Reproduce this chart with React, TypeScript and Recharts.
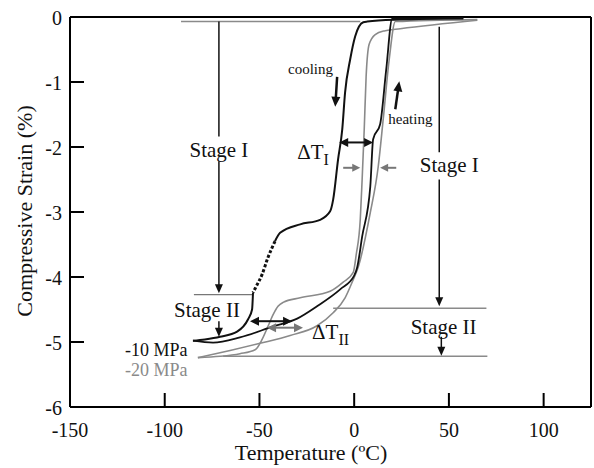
import React from 'react';
import { LineChart, Line, XAxis, YAxis, ReferenceLine, ReferenceDot } from 'recharts';

const FONT = '"Liberation Serif", "Times New Roman", serif';
const INK = '#111';
const GREY = '#8a8a8a';

const xTicks = [-150, -100, -50, 0, 50, 100];
const yTicks = [0, -1, -2, -3, -4, -5, -6];

// -10 MPa cooling (black), split where the original trace is dotted
const cool10aTemp = [57.6, 24.3, 6.9, 4.8, 0.5, -2.1, -4.8, -6.3, -8.5, -11.1, -12.7, -18.0, -28.5, -39.1, -41.8];
const cool10aStrain = [-0.02, -0.04, -0.07, -0.08, -0.3, -0.65, -1.16, -1.73, -2.19, -2.81, -2.99, -3.12, -3.19, -3.32, -3.45];
const cool10dotTemp = [-41.8, -45.5, -48.6, -51.8, -53.4];
const cool10dotStrain = [-3.45, -3.7, -3.96, -4.15, -4.24];
const cool10bTemp = [-53.4, -53.9, -56.0, -61.8, -70.8, -78.8, -85.1];
const cool10bStrain = [-4.24, -4.5, -4.65, -4.84, -4.92, -4.96, -4.98];

// -10 MPa heating (black)
const heat10Temp = [-85.1, -74.5, -60.3, -42.8, -30.1, -19.6, -7.4, 0, 1.6, 4.2, 8.5, 10.0, 13.7, 16.9, 20.1, 57.6];
const heat10Strain = [-4.98, -5.01, -4.93, -4.76, -4.64, -4.45, -4.19, -3.98, -3.85, -3.38, -2.61, -1.88, -1.65, -0.81, -0.02, -0.02];

// -20 MPa cooling (grey)
const cool20Temp = [65.0, 24.3, 16.4, 11.1, 7.9, 6.3, 5.3, 4.2, 3.2, 1.1, -0.5, -5.8, -12.7, -28.5, -37.5, -40.2, -42.8, -45.5, -48.6, -52.3, -60.3, -70.8, -82.5];
const cool20Strain = [-0.05, -0.18, -0.21, -0.27, -0.42, -0.92, -1.73, -2.5, -3.12, -3.65, -3.93, -4.08, -4.22, -4.32, -4.39, -4.45, -4.58, -4.76, -4.96, -5.12, -5.18, -5.22, -5.24];

// -20 MPa heating (grey)
const heat20Temp = [-82.5, -65.5, -49.7, -33.8, -19.6, -11.1, -4.8, -0.5, 2.1, 8.5, 12.7, 15.3, 18.5, 21.7, 65.0];
const heat20Strain = [-5.24, -5.13, -5.02, -4.9, -4.75, -4.55, -4.32, -4.04, -3.85, -3.01, -2.3, -1.58, -0.65, -0.07, -0.04];

const zip = (t: number[], s: number[]) => t.map((v, i) => ({ t: v, s: s[i] }));

const YTick = ({ x, y, payload }: any) => (
  <g>
    <line x1={x + 8} y1={y} x2={x + 22} y2={y} stroke="#000" strokeWidth={2} />
    <text x={x} y={y + 8} textAnchor="end" fontSize={20} fontFamily={FONT} fill={INK}>{payload.value}</text>
  </g>
);

const XTick = ({ x, y, payload }: any) => (
  <g>
    <line x1={x} y1={y} x2={x} y2={y - 14} stroke="#000" strokeWidth={2} />
    <text x={x} y={y + 30} textAnchor="middle" fontSize={20} fontFamily={FONT} fill={INK}>{payload.value}</text>
  </g>
);

// line with arrow head(s), used as ReferenceLine shape
const arrow = (color: string, width: number, both = false, head = 9, half = 4.5) => (p: any) => {
  const { x1, y1, x2, y2 } = p;
  const len = Math.hypot(x2 - x1, y2 - y1) || 1;
  const ux = (x2 - x1) / len;
  const uy = (y2 - y1) / len;
  const tri = (tx: number, ty: number, dx: number, dy: number) =>
    `${tx},${ty} ${tx - dx * head - dy * half},${ty - dy * head + dx * half} ${tx - dx * head + dy * half},${ty - dy * head - dx * half}`;
  const sx = both ? x1 + ux * head * 0.8 : x1;
  const sy = both ? y1 + uy * head * 0.8 : y1;
  return (
    <g>
      <line x1={sx} y1={sy} x2={x2 - ux * head * 0.8} y2={y2 - uy * head * 0.8} stroke={color} strokeWidth={width} />
      <polygon points={tri(x2, y2, ux, uy)} fill={color} />
      {both && <polygon points={tri(x1, y1, -ux, -uy)} fill={color} />}
    </g>
  );
};

const note = (text: string, size: number, anchor: 'start' | 'middle' | 'end' = 'middle', color = INK) => (p: any) => (
  <text x={p.cx} y={p.cy} fontSize={size} fontFamily={FONT} textAnchor={anchor} fill={color}>{text}</text>
);

const delta = (sub: string) => (p: any) => (
  <text x={p.cx} y={p.cy} fontSize={21} fontFamily={FONT} fill={INK}>
    ΔT<tspan fontSize={16} dy={6}>{sub}</tspan>
  </text>
);

const App: React.FC = () => {
  return (
    <div style={{ position: 'absolute', left: 0, top: 0, background: '#fff' }}>
      <LineChart width={594} height={468} margin={{ top: 17, right: 3, bottom: 11, left: 10 }}>
        <XAxis
          type="number"
          dataKey="t"
          domain={[-150, 125]}
          ticks={xTicks}
          allowDataOverflow
          height={50}
          tickSize={0}
          tickMargin={0}
          tickLine={false}
          tick={<XTick />}
          axisLine={{ stroke: '#000', strokeWidth: 2 }}
          label={{
            content: () => (
              <text x={311} y={460} textAnchor="middle" fontSize={22} fontFamily={FONT} fill={INK}>Temperature (ºC)</text>
            ),
          }}
        />
        <YAxis
          type="number"
          domain={[-6, 0]}
          ticks={yTicks}
          allowDataOverflow
          width={60}
          tickSize={0}
          tickMargin={8}
          tickLine={false}
          tick={<YTick />}
          axisLine={{ stroke: '#000', strokeWidth: 2 }}
          label={{
            content: () => (
              <text x={32} y={211} transform="rotate(-90, 32, 211)" textAnchor="middle" fontSize={22} fontFamily={FONT} fill={INK}>
                Compressive Strain (%)
              </text>
            ),
          }}
        />
        <ReferenceLine y={0} stroke="#000" strokeWidth={2} />
        <ReferenceLine x={125} stroke="#000" strokeWidth={2} />

        {/* guide lines */}
        <ReferenceLine segment={[{ x: -91.4, y: -0.07 }, { x: 3.2, y: -0.07 }]} stroke={GREY} strokeWidth={1.5} />
        <ReferenceLine segment={[{ x: -84.6, y: -4.27 }, { x: -53.4, y: -4.27 }]} stroke="#777" strokeWidth={1.3} />
        <ReferenceLine segment={[{ x: -11.1, y: -4.48 }, { x: 69.8, y: -4.48 }]} stroke={GREY} strokeWidth={1.5} />
        <ReferenceLine segment={[{ x: -69.2, y: -5.22 }, { x: 70.3, y: -5.22 }]} stroke={GREY} strokeWidth={1.5} />
        <ReferenceLine segment={[{ x: -71.4, y: -0.07 }, { x: -71.4, y: -1.84 }]} stroke={INK} strokeWidth={1.5} />
        <ReferenceLine segment={[{ x: -71.4, y: -2.22 }, { x: -71.4, y: -4.25 }]} shape={arrow(INK, 1.5, false, 9, 4)} />
        <ReferenceLine segment={[{ x: -71.4, y: -4.68 }, { x: -71.4, y: -4.92 }]} shape={arrow(INK, 1.5, false, 9, 4)} />
        <ReferenceLine segment={[{ x: 44.9, y: -0.15 }, { x: 44.9, y: -2.08 }]} stroke={INK} strokeWidth={1.5} />
        <ReferenceLine segment={[{ x: 44.9, y: -2.5 }, { x: 44.9, y: -4.45 }]} shape={arrow(INK, 1.5, false, 9, 4)} />
        <ReferenceLine segment={[{ x: 46, y: -4.92 }, { x: 46, y: -5.21 }]} shape={arrow(INK, 1.5, false, 9, 4)} />

        {/* curves */}
        <Line data={zip(cool20Temp, cool20Strain)} dataKey="s" type="monotone" stroke={GREY} strokeWidth={1.6} dot={false} isAnimationActive={false} />
        <Line data={zip(heat20Temp, heat20Strain)} dataKey="s" type="monotone" stroke={GREY} strokeWidth={1.6} dot={false} isAnimationActive={false} />
        <Line data={zip(heat10Temp, heat10Strain)} dataKey="s" type="monotone" stroke={INK} strokeWidth={1.8} dot={false} isAnimationActive={false} />
        <Line data={zip(cool10aTemp, cool10aStrain)} dataKey="s" type="monotone" stroke={INK} strokeWidth={2} dot={false} isAnimationActive={false} />
        <Line data={zip(cool10dotTemp, cool10dotStrain)} dataKey="s" type="monotone" stroke={INK} strokeWidth={3} strokeDasharray="3 2" dot={false} isAnimationActive={false} />
        <Line data={zip(cool10bTemp, cool10bStrain)} dataKey="s" type="monotone" stroke={INK} strokeWidth={2} dot={false} isAnimationActive={false} />

        {/* arrows */}
        <ReferenceLine segment={[{ x: -9.0, y: -0.92 }, { x: -10.0, y: -1.38 }]} shape={arrow(INK, 2.5, false, 10, 4.5)} />
        <ReferenceLine segment={[{ x: 21.7, y: -1.42 }, { x: 23.8, y: -0.99 }]} shape={arrow(INK, 2.5, false, 10, 4.5)} />
        <ReferenceLine segment={[{ x: -7.9, y: -1.93 }, { x: 10.0, y: -1.93 }]} shape={arrow(INK, 2, true, 9, 4.5)} />
        <ReferenceLine segment={[{ x: -5.8, y: -2.32 }, { x: 3.2, y: -2.32 }]} shape={arrow('#777', 2, false, 8, 4)} />
        <ReferenceLine segment={[{ x: 22.2, y: -2.32 }, { x: 13.7, y: -2.32 }]} shape={arrow('#777', 2, false, 8, 4)} />
        <ReferenceLine segment={[{ x: -55.0, y: -4.68 }, { x: -32.8, y: -4.68 }]} shape={arrow(INK, 2, true, 9, 4.5)} />
        <ReferenceLine segment={[{ x: -46.0, y: -4.78 }, { x: -27.0, y: -4.78 }]} shape={arrow('#777', 2, true, 9, 4.5)} />

        {/* text */}
        <ReferenceDot x={-71.4} y={-2.15} r={0} shape={note('Stage I', 21)} />
        <ReferenceDot x={-77.7} y={-4.61} r={0} shape={note('Stage II', 21)} />
        <ReferenceDot x={50.2} y={-2.39} r={0} shape={note('Stage I', 21)} />
        <ReferenceDot x={47.2} y={-4.88} r={0} shape={note('Stage II', 21)} />
        <ReferenceDot x={-34.9} y={-0.88} r={0} shape={note('cooling', 15, 'start')} />
        <ReferenceDot x={18.0} y={-1.64} r={0} shape={note('heating', 15, 'start')} />
        <ReferenceDot x={-30.1} y={-2.19} r={0} shape={delta('I')} />
        <ReferenceDot x={-22.2} y={-4.95} r={0} shape={delta('II')} />
        <ReferenceDot x={-121} y={-5.21} r={0} shape={note('-10 MPa', 18, 'start')} />
        <ReferenceDot x={-121} y={-5.53} r={0} shape={note('-20 MPa', 18, 'start', GREY)} />
      </LineChart>
    </div>
  );
};

export default App;
